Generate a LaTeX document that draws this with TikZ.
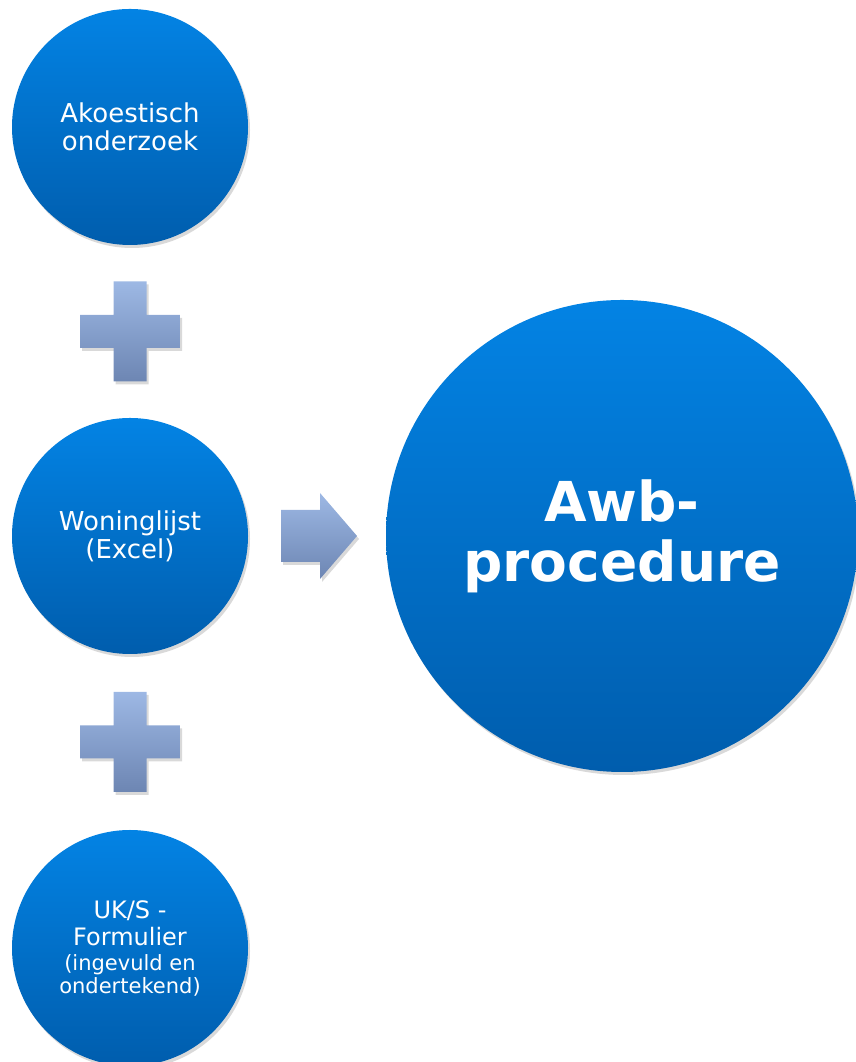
\documentclass[tikz,border=0pt]{standalone}
\usepackage{fontspec}
\setmainfont{DejaVu Sans}
\usetikzlibrary{calc,shadows}

\definecolor{discTop}{HTML}{0383E4}
\definecolor{discBot}{HTML}{005DAD}
\definecolor{signTop}{HTML}{9DB8E4}
\definecolor{signBot}{HTML}{6D86B3}

\begin{document}
\begin{tikzpicture}[x=1pt, y=1pt,
    disc/.style={circle, inner sep=0pt, minimum size=236pt, align=center,
      text=white, top color=discTop, bottom color=discBot,
      drop shadow={shadow xshift=2pt, shadow yshift=-3pt, opacity=.15, fill=black}},
    small/.style={font=\fontsize{26}{28}\selectfont},
    sign/.style={top color=signTop, bottom color=signBot,
      drop shadow={shadow xshift=2pt, shadow yshift=-3pt, opacity=.15, fill=black}}]
    \useasboundingbox (0, 0) rectangle (856, 1062);
    % inputs on the left
    \node [disc, small] (akoe) at (130, 935) {Akoestisch\\onderzoek};
    \node [disc, small] (wonin) at (130, 526) {Woninglijst\\(Excel)};
    \node [disc, font=\fontsize{24}{27}\selectfont] (form) at (130, 114)
      {UK/S -\\Formulier\\[-2pt]
       {\fontsize{21}{24}\selectfont (ingevuld en}\\[-4pt]
       {\fontsize{21}{24}\selectfont ondertekend)}};
    % result
    \node [disc, minimum size=472pt, font=\fontsize{55}{60}\selectfont\bfseries]
      (awb) at (622, 526) {Awb-\\procedure};
    % plus signs
    \foreach \a/\b in {akoe/wonin, wonin/form}
      \shade [sign, shift={($(\a)!.5!(\b)$)}]
        (-16.5, 50) -- (16.5, 50) -- (16.5, 16.5) -- (50, 16.5) -- (50, -16.5)
        -- (16.5, -16.5) -- (16.5, -50) -- (-16.5, -50) -- (-16.5, -16.5)
        -- (-50, -16.5) -- (-50, 16.5) -- (-16.5, 16.5) -- cycle;
    % arrow
    \shade [sign, shift={($(wonin.east)!.5!(awb.west)+(2, 0)$)}]
      (-38, 26) -- (1, 26) -- (1, 43) -- (38, 0) -- (1, -43) -- (1, -26)
      -- (-38, -26) -- cycle;
  \end{tikzpicture}
\end{document}
